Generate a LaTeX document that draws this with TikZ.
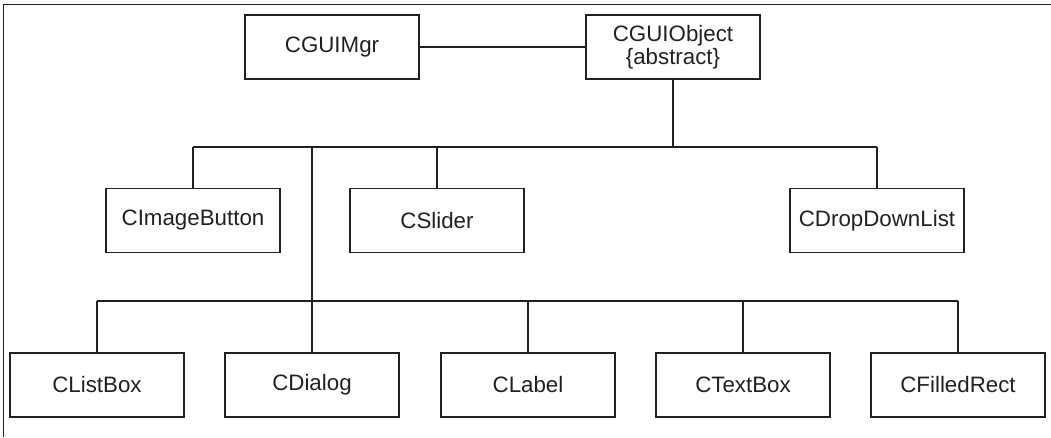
\documentclass[tikz,border=0pt]{standalone}
\usepackage{fontspec}
\setmainfont{Liberation Sans}
\usepackage{tikz}
\usetikzlibrary{positioning, calc}
\definecolor{linegray}{RGB}{35,31,32}
\tikzset{
  classbox/.style={rectangle, draw=linegray, line width=0.9pt, minimum width=3.48cm,
    minimum height=1.28cm, inner sep=0pt, text centered, align=center,
    font=\fontsize{12.7}{11}\selectfont, text=linegray},
  link/.style={line width=0.75pt, color=linegray},
  frameline/.style={line width=0.5pt, color=linegray},
}
\begin{document}
\begin{tikzpicture}
  \useasboundingbox (0,0) rectangle (21.02,-8.74);
  % frame
  \coordinate (corner) at (0.06,-0.08);
  \draw[frameline] (21.02,-0.08) -- (corner) -- (0.06,-8.74);

  % top row
  \node[classbox] (mgr) at (6.64,-0.94) {CGUIMgr};
  \node[classbox] (obj) at (13.46,-0.94) {CGUIObject\\\{abstract\}};

  % middle row
  \node[classbox] (imgbtn) at (3.86,-4.41) {CImageButton};
  \node[classbox] (slider) at (8.74,-4.41) {CSlider};
  \node[classbox] (dropdown) at (17.54,-4.41) {CDropDownList};

  % bottom row
  \node[classbox] (listbox) at (1.94,-7.70) {CListBox};
  \node[classbox] (dialog) at (6.24,-7.70) {CDialog};
  \node[classbox] (label) at (10.56,-7.70) {CLabel};
  \node[classbox] (textbox) at (14.86,-7.70) {CTextBox};
  \node[classbox] (filledrect) at (19.16,-7.70) {CFilledRect};

  \coordinate (bar1) at (13.46,-2.94);
  \coordinate (bar2) at (10.56,-6.02);

  % connectors
  \draw[link] (mgr) -- (obj);
  \draw[link] (obj.south) -- (obj.south |- bar1);
  \draw[link] (imgbtn |- bar1) -- (dropdown |- bar1);
  \foreach \n in {imgbtn, slider, dropdown}
    \draw[link] (\n |- bar1) -- (\n.north);
  \draw[link] (dialog |- bar1) -- (dialog.north);
  \draw[link] (listbox |- bar2) -- (filledrect |- bar2);
  \foreach \n in {listbox, label, textbox, filledrect}
    \draw[link] (\n |- bar2) -- (\n.north);
\end{tikzpicture}
\end{document}
